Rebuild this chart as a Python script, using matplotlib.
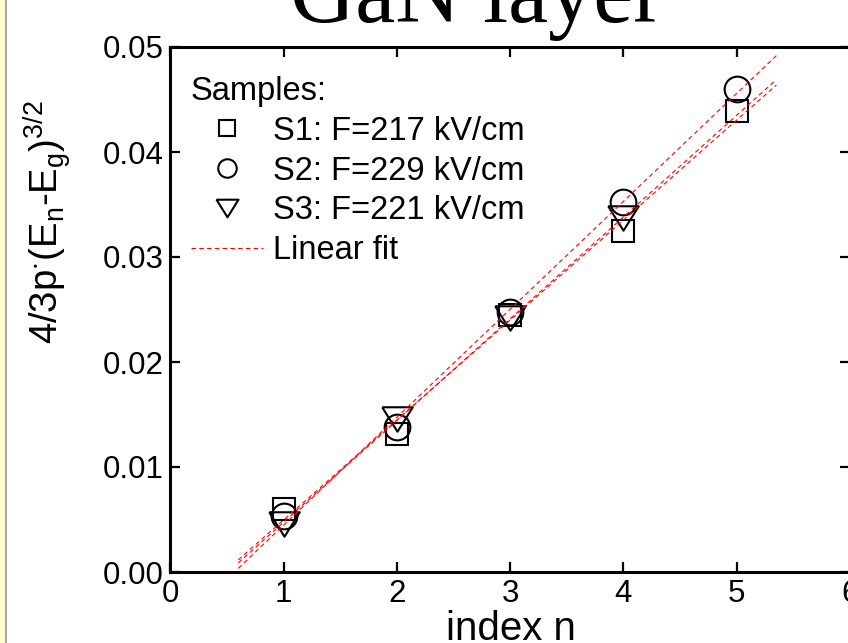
import matplotlib
matplotlib.use("Agg")
import matplotlib.pyplot as plt
import numpy as np
from matplotlib.patches import Rectangle
from matplotlib.lines import Line2D

plt.rcParams['font.family'] = ['Liberation Sans', 'DejaVu Sans']
plt.rcParams['mathtext.default'] = 'regular'

# data
n = [1, 2, 3, 4, 5]
s1 = [0.0060, 0.0131, 0.0245, 0.0325, 0.0439]
s2 = [0.0053, 0.0138, 0.0248, 0.0352, 0.0460]
n3 = [1, 2, 3, 4]
s3 = [0.0046, 0.0146, 0.0242, 0.0337]
labels = ["S1: F=217 kV/cm", "S2: F=229 kV/cm", "S3: F=221 kV/cm"]
xticks = [0, 1, 2, 3, 4, 5, 6]
yticks = [0.00, 0.01, 0.02, 0.03, 0.04, 0.05]

W, H = 848, 643
fig = plt.figure(figsize=(W / 100, H / 100), dpi=100)
ax = fig.add_axes([170.3 / W, 71 / H, 679.7 / W, 525 / H])

# triangle a bit wider than tall, like the original
tri = [(-1, 0.8), (1, 0.8), (0, -0.8), (-1, 0.8)]
mk = dict(linestyle='none', markerfacecolor='none', markeredgecolor='black',
          markeredgewidth=1.5)
h1, = ax.plot(n, s1, marker='s', ms=16, label=labels[0], **mk)
h2, = ax.plot(n, s2, marker='o', ms=18.5, label=labels[1], **mk)
h3, = ax.plot(n3, s3, marker=tri, ms=22, label=labels[2], **mk)

xf = np.linspace(0.6, 5.35, 50)
fit_handle = None
for xs, ys in [(n, s1), (n, s2), (n3, s3)]:
    p = np.polyfit(xs, ys, 1)
    fit_handle, = ax.plot(xf, np.polyval(p, xf), color='red', lw=0.8,
                          dashes=(4, 3), zorder=5, label='Linear fit')

ax.set_xlim(0, 6)
ax.set_ylim(0, 0.05)
ax.set_xticks(xticks)
ax.set_yticks(yticks)
ax.set_yticklabels(["%.2f" % v for v in yticks])
ax.tick_params(direction='in', length=7, width=1.6, labelsize=22.5,
               top=True, right=True, pad=5)
for s in ax.spines.values():
    s.set_linewidth(2.2)

leg = ax.legend([h1, h2, h3, fit_handle], labels + ['Linear fit'],
                title='Samples:', alignment='left', frameon=False,
                loc='upper left', bbox_to_anchor=(191 / W, 1 - 76 / H),
                bbox_transform=fig.transFigure, borderpad=0, borderaxespad=0,
                fontsize=23.5, title_fontsize=23.5, handlelength=2.2,
                handletextpad=0.3, labelspacing=0.27, markerscale=0.72)

fig.text(477 / W, 1 - 22 / H, "GaN layer", family='Liberation Serif',
         fontsize=65, ha='center', va='baseline')
fig.text(511 / W, 1 - 640 / H, "index n", fontsize=29, ha='center',
         va='baseline')
fig.text(47 / W, 1 - 222 / H, r'4/3p$^{\cdot}$(E$_n$-E$_g$)$^{3/2}$',
         fontsize=27.5, rotation=90, ha='center', va='center')

# pale yellow strip on the left edge
fig.patches.append(Rectangle((0, 0), 5 / W, 1, transform=fig.transFigure,
                             facecolor='#FFFFCC', edgecolor='none'))
fig.lines.append(Line2D([6 / W, 6 / W], [0, 1], transform=fig.transFigure,
                        color='#A8A8A8', lw=1.5))

fig.savefig("out.png", dpi=100)
